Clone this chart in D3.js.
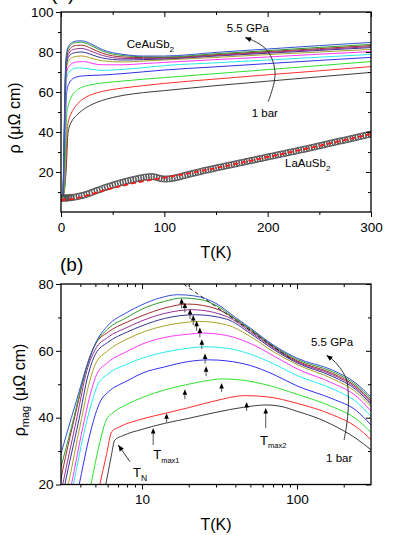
<!DOCTYPE html>
<html><head><meta charset="utf-8">
<script src="https://cdn.jsdelivr.net/npm/d3@7"></script>
<style>
body{margin:0;background:#fff;}
svg{display:block;}
text{font-family:"Liberation Sans",Arial,Helvetica,sans-serif;fill:#000;}
</style>
</head><body>
<svg id="c" width="414" height="535"></svg>
<script>
// ---------------- DATA ----------------
// Panel (a): rho(T) of CeAuSb2 at 12 pressures, [T (K), rho (µΩ cm)]  (1 bar -> 5.5 GPa)
const ce01 = [[2,8],[4,14],[5.5,26],[6.5,38],[8,42.5],[10,45],[15,48.3],[20,50.6],[30,53.8],[40,55.8],[60,58.3],[80,59.7],[100,60.7],[150,63.2],[200,65.4],[250,67.6],[300,69.8]];
const ce02 = [[2,8],[4,16],[5,28],[6,41],[7,45],[8,47],[10,49.5],[15,53.5],[20,56],[30,58.8],[40,60.3],[60,62],[80,63.2],[100,64.3],[150,66.5],[200,68.6],[250,70.6],[300,72.7]];
const ce03 = [[2,8],[3.5,15],[4.5,30],[5.5,48],[6.5,52],[8,55],[10,57.5],[15,60.8],[20,62.3],[30,63.7],[40,64.5],[60,65.5],[80,66.4],[100,67.2],[150,69.2],[200,71.2],[250,73.2],[300,75.2]];
const ce04 = [[2,8],[3,18],[4,38],[5,56],[6,61.5],[8,64.5],[10,66],[15,67.5],[20,68],[30,68.3],[40,68.5],[60,69.2],[80,70.1],[100,71],[150,72.6],[200,74.2],[250,75.8],[300,77.3]];
const ce05 = [[2,8],[3,22],[4,45],[5,64],[6,68],[8,70],[10,71],[15,72],[20,72],[30,71.3],[40,70.8],[60,71.3],[80,72.2],[100,73.2],[150,74.6],[200,76],[250,77.4],[300,78.8]];
const ce06 = [[2,8],[3,25],[4,50],[5,67],[6,71],[8,73],[10,74],[15,75],[20,75.2],[25,75],[30,74.3],[40,73.6],[60,73.6],[80,74.2],[100,74.8],[150,76.2],[200,77.5],[250,78.9],[300,80.2]];
const ce07 = [[2,8],[3,28],[4,55],[5,70],[6,73.5],[8,76],[10,77],[15,77.8],[20,78],[25,77.6],[30,76.8],[40,75.6],[60,75],[80,75.5],[100,76],[150,77.3],[200,78.7],[250,80],[300,81.3]];
const ce08 = [[2,8],[3,30],[4,58],[5,72],[6,75.5],[8,78],[10,79],[15,79.8],[20,80],[25,79.5],[30,78.6],[40,77],[60,76],[80,76.2],[100,76.5],[150,78],[200,79.4],[250,80.8],[300,82.2]];
const ce09 = [[2,8],[3,32],[4,60],[5,73.5],[6,77],[8,79.5],[10,80.8],[15,81.6],[20,81.8],[25,81.2],[30,80.2],[40,78.3],[60,76.8],[80,76.7],[100,76.8],[150,78.3],[200,79.8],[250,81.2],[300,82.7]];
const ce10 = [[2,8],[3,34],[4,62],[5,75],[6,78.5],[8,81],[10,82.3],[15,83.3],[20,83.4],[25,82.8],[30,81.6],[40,79.4],[60,77.5],[80,77.2],[100,77.2],[150,78.7],[200,80.2],[250,81.7],[300,83.2]];
const ce11 = [[2,8],[3,36],[4,64],[5,76.5],[6,80],[8,82.5],[10,83.7],[15,84.8],[20,84.9],[25,84.2],[30,83],[40,80.5],[60,78.2],[80,77.6],[100,77.5],[150,79.1],[200,80.7],[250,82.3],[300,83.8]];
const ce12 = [[2,8],[3,38],[4,66],[5,77.5],[6,81],[8,83.5],[10,84.5],[15,85.5],[20,85.6],[25,85],[30,83.8],[40,81.2],[60,78.8],[80,78],[100,78],[150,79.8],[200,81.5],[250,83.2],[300,84.8]];

// Panel (a): LaAuSb2 reference (open circles) and phonon fit (red dashed)
const laT   = [1,1.5,2,3,4,5,6,7.5,9,10,12.5,15,17.5,20,22.5,25,27.5,30,32.5,35,37.5,40,42.5,45,47.5,50,52.5,55,57.5,60,62.5,65,67.5,70,72.5,75,77.5,80,82.5,85,87.5,90,92.5,95,97.5,100,102.5,105,107.5,110,112.5,115,117.5,120,122.5,125,127.5,130,132.5,135,137.5,140,142.5,145,147.5,150,152.5,155,157.5,160,162.5,165,167.5,170,172.5,175,177.5,180,182.5,185,187.5,190,192.5,195,197.5,200,202.5,205,207.5,210,212.5,215,217.5,220,222.5,225,227.5,230,232.5,235,237.5,240,242.5,245,247.5,250,252.5,255,257.5,260,262.5,265,267.5,270,272.5,275,277.5,280,282.5,285,287.5,290,292.5,295,297.5,300];
const laRho = [7.0,7.0,7.0,7.0,7.0,7.0,7.0,7.1,7.2,7.2,7.4,7.6,7.9,8.2,8.5,8.9,9.3,9.8,10.3,10.8,11.2,11.7,12.2,12.6,13.0,13.4,13.8,14.2,14.6,14.9,15.3,15.6,15.9,16.2,16.5,16.8,17.1,17.3,17.5,17.6,17.7,17.6,17.3,16.9,16.6,16.5,16.5,16.6,16.8,17.0,17.3,17.6,18.0,18.3,18.7,19.0,19.3,19.6,19.9,20.2,20.6,20.9,21.1,21.4,21.7,22.0,22.3,22.5,22.8,23.1,23.4,23.6,23.9,24.2,24.5,24.7,25.0,25.3,25.6,25.8,26.1,26.4,26.7,26.9,27.2,27.5,27.8,28.0,28.3,28.6,28.9,29.1,29.4,29.7,30.0,30.2,30.5,30.8,31.1,31.3,31.6,31.9,32.2,32.5,32.8,33.1,33.4,33.7,34.0,34.3,34.6,34.9,35.2,35.5,35.7,36.0,36.3,36.6,36.9,37.2,37.5,37.8,38.1,38.4,38.7,39.0];
const fitT   = [0,10,20,30,40,50,60,70,80,100,120,150,200,250,300];
const fitRho = [6.0,6.4,7.5,9.0,10.6,12.0,13.2,14.4,15.4,17.2,19.0,22.0,27.5,33.1,39.0];

// Panel (b): magnetic resistivity rho_mag(T), [T (K), rho_mag (µΩ cm)]  (1 bar -> 5.5 GPa)
const mag01 = [[5.3,12],[5.83,20],[6.3,28],[6.67,33.3],[7.5,34.6],[10,36.5],[14,38.3],[20,39.8],[30,41.6],[45,43.1],[63,43.8],[80,43.3],[100,41.9],[140,39.6],[170,37.8],[240,33.8],[300,30.4]];
const mag02 = [[4.9,12],[5.34,20],[5.9,29],[6.37,35.8],[7.2,37.3],[10,39.6],[14.4,41.4],[20,43],[30,45.1],[46,46.6],[65,46.2],[100,44.3],[170,40.8],[240,37.3],[300,33.4]];
const mag03 = [[4.3,12],[4.68,20],[5.3,32],[5.9,39.5],[6.5,41.5],[8,44],[10,46],[14,48.3],[19,49.8],[25,50.9],[33,51.6],[45,51.2],[60,50.1],[100,47],[170,43.2],[240,39.7],[300,35.6]];
const mag04 = [[3.6,12],[3.93,20],[4.5,33],[5.0,41],[5.4,45],[6,47.5],[8,51],[10,53.3],[14,55.2],[20,56.8],[27,57.3],[35,57],[50,55.6],[70,53],[100,49.5],[170,45.6],[240,42.2],[300,37.8]];
const mag05 = [[3.3,12],[3.6,20],[4.2,35],[4.8,45.5],[5.2,50],[6,53],[8,56],[10,57.8],[14,59.6],[20,60.8],[25.5,61.2],[35,60.8],[50,59],[70,56.2],[100,52.6],[170,48.6],[240,44.8],[300,40.4]];
const mag06 = [[3.2,12],[3.5,20],[4.1,36],[4.7,48],[5.1,53],[6,56.5],[8,59.8],[10,62],[14,64],[20,65],[24.6,65.3],[35,64.6],[50,62.2],[70,58.6],[100,54.6],[170,50.3],[240,46.5],[300,42]];
const mag07 = [[3.05,12],[3.34,20],[4.0,38],[4.6,51],[5.0,56],[6,60],[8,63.5],[10,65.5],[14,67.5],[20,68.6],[23.5,68.8],[35,67.8],[50,64.3],[70,59.8],[100,55.9],[170,51.6],[240,47.7],[300,43.3]];
const mag08 = [[2.95,12],[3.18,20],[3.9,39],[4.5,53],[5.0,59],[6,62.5],[8,65.6],[10,67.5],[14,69.7],[22,70.8],[35,69.5],[50,65.2],[70,60.5],[100,56.4],[170,52.3],[240,48.4],[300,44]];
const mag09 = [[2.85,12],[3.08,20],[3.8,40],[4.4,54],[5.0,60.5],[6,64],[8,67],[10,69],[14,71.2],[21,72.3],[35,70.3],[50,65.7],[70,60.9],[100,56.7],[170,52.8],[240,48.9],[300,44.5]];
const mag10 = [[2.75,12],[2.95,20],[3.2,28],[3.8,43],[4.4,55.5],[5.0,62],[6,65.5],[8,68.6],[10,70.5],[14,72.8],[19.7,74],[30,72.6],[50,66.2],[70,61.2],[100,57],[170,53.2],[240,49.3],[300,45]];
const mag11 = [[2.6,12],[2.8,20],[3,25.3],[3.5,37],[4,48],[4.5,56.5],[5,62],[6,66.5],[8,70],[10,72.5],[14,74.8],[18,75.8],[24,75.3],[30,73.6],[40,69.6],[50,66.5],[70,61.5],[100,57.4],[170,53.7],[240,49.8],[300,45.5]];
const mag12 = [[2.5,14],[2.65,20],[3,29.2],[3.5,40],[3.78,45.2],[4.3,54],[5.1,63],[6,67.5],[8,71.5],[10,73.8],[13,75.8],[17,76.8],[22,76.4],[30,74.2],[40,70],[50,66.8],[70,61.8],[100,57.8],[170,54.2],[240,50.3],[300,46.1]];

// Panel (b): Tmax arrows (T, rho_mag at arrow tip)
const arrowT   = [18.0,18.9,20.4,21.4,22.5,23.6,24.3,25.5,25.9,32.6,18.9,47.3,14.4,11.8,62.8];
const arrowRho = [75.7,74.5,72.5,70.7,69.0,67.0,63.5,59.2,55.4,50.4,48.5,44.7,41.3,36.9,42.9];
// Panel (b): -ln T guide (dashed)
const dashT   = [18.5,94];
const dashRho = [80.0,57.2];

// Tick values
const xTicksA = [0,100,200,300], xMinorA = [50,150,250];
const yTicksA = [20,40,60,80,100], yMinorA = [10,30,50,70,90];
const xTicksB = [10,100], xMinorB = [4,5,6,7,8,9,20,30,40,50,60,70,80,90,200];
const yTicksB = [20,40,60,80], yMinorB = [30,50,70];

// ---------------- STYLE ----------------
const colors = ["#3c3c3c","#ff2d2d","#2ee02e","#3030f0","#26eaea","#ff36ff","#a8a026","#343494","#963096","#a42a2a","#2e9a2e","#3452d2"];
const ceCurves  = [ce01,ce02,ce03,ce04,ce05,ce06,ce07,ce08,ce09,ce10,ce11,ce12];
const magCurves = [mag01,mag02,mag03,mag04,mag05,mag06,mag07,mag08,mag09,mag10,mag11,mag12];
const arrowLen = [10,10,10,10,10,10,10,10,10,9,10,9,9,17,20];

const svg = d3.select("#c");
const defs = svg.append("defs");

// scales
const xA = d3.scaleLinear().domain([0,300]).range([61,371]);
const yA = d3.scaleLinear().domain([0,100]).range([212,12]);
const xB = d3.scaleLog().domain([3,300]).range([61,371]);
const yB = d3.scaleLinear().domain([20,80]).range([484.5,284]);

function clip(id,x,y){
  defs.append("clipPath").attr("id",id).append("rect")
    .attr("x",x.range()[0]).attr("y",y.range()[1])
    .attr("width",x.range()[1]-x.range()[0]).attr("height",y.range()[0]-y.range()[1]);
}
clip("clipA",xA,yA); clip("clipB",xB,yB);

function drawAxes(x,y,xMaj,xMin,yMaj,yMin,xFmt){
  const [x0,x1]=x.range(), [y0,y1]=y.range();
  const g = svg.append("g");
  const style = sel => {
    sel.select(".domain").remove();
    sel.selectAll("line").attr("stroke","#000").attr("stroke-width",1);
    sel.selectAll("text").attr("font-size","13.5px").attr("fill","#000")
      .attr("font-family",'"Liberation Sans",Arial,sans-serif');
  };
  g.append("g").attr("transform",`translate(0,${y0})`)
    .call(d3.axisBottom(x).tickValues(xMaj).tickSize(5).tickSizeOuter(0).tickPadding(5).tickFormat(xFmt)).call(style);
  g.append("g").attr("transform",`translate(0,${y0})`)
    .call(d3.axisBottom(x).tickValues(xMin).tickSize(3).tickSizeOuter(0).tickFormat("")).call(style);
  g.append("g").attr("transform",`translate(0,${y1})`)
    .call(d3.axisBottom(x).tickValues(xMaj).tickSize(5).tickSizeOuter(0).tickFormat("")).call(style);
  g.append("g").attr("transform",`translate(0,${y1})`)
    .call(d3.axisBottom(x).tickValues(xMin).tickSize(3).tickSizeOuter(0).tickFormat("")).call(style);
  g.append("g").attr("transform",`translate(${x0},0)`)
    .call(d3.axisLeft(y).tickValues(yMaj).tickSize(5).tickSizeOuter(0).tickPadding(2.5).tickFormat(d3.format("d"))).call(style);
  g.append("g").attr("transform",`translate(${x0},0)`)
    .call(d3.axisLeft(y).tickValues(yMin).tickSize(3).tickSizeOuter(0).tickFormat("")).call(style);
  g.append("g").attr("transform",`translate(${x1},0)`)
    .call(d3.axisLeft(y).tickValues(yMaj).tickSize(5).tickSizeOuter(0).tickFormat("")).call(style);
  g.append("g").attr("transform",`translate(${x1},0)`)
    .call(d3.axisLeft(y).tickValues(yMin).tickSize(3).tickSizeOuter(0).tickFormat("")).call(style);
  g.append("rect").attr("x",x0).attr("y",y1).attr("width",x1-x0).attr("height",y0-y1)
    .attr("fill","none").attr("stroke","#000").attr("stroke-width",1.3);
}

// ---------- Panel (a) ----------
const pA = svg.append("g").attr("clip-path","url(#clipA)");
const lineA = d3.line().x(d=>xA(d[0])).y(d=>yA(d[1])).curve(d3.curveMonotoneX);
pA.selectAll("path.ce").data(ceCurves).join("path").attr("class","ce")
  .attr("d",lineA).attr("fill","none").attr("stroke",(d,i)=>colors[i]).attr("stroke-width",1);
pA.selectAll("circle.la").data(laT.map((t,i)=>[t,laRho[i]])).join("circle").attr("class","la")
  .attr("cx",d=>xA(d[0])).attr("cy",d=>yA(d[1])).attr("r",3.1)
  .attr("fill","none").attr("stroke","#505050").attr("stroke-width",1);
pA.append("path").datum(fitT.map((t,i)=>[t,fitRho[i]]))
  .attr("d",lineA).attr("fill","none").attr("stroke","#ff1a1a").attr("stroke-width",1.8).attr("stroke-dasharray","5,3");
drawAxes(xA,yA,xTicksA,xMinorA,yTicksA,yMinorA,d3.format("d"));

// ---------- Panel (b) ----------
const pB = svg.append("g").attr("clip-path","url(#clipB)");
const lineB = d3.line().x(d=>xB(d[0])).y(d=>yB(d[1])).curve(d3.curveMonotoneX);
pB.selectAll("path.mag").data(magCurves).join("path").attr("class","mag")
  .attr("d",lineB).attr("fill","none").attr("stroke",(d,i)=>colors[i]).attr("stroke-width",1);
pB.append("path").datum(dashT.map((t,i)=>[t,dashRho[i]]))
  .attr("d",d3.line().x(d=>xB(d[0])).y(d=>yB(d[1])))
  .attr("fill","none").attr("stroke","#222").attr("stroke-width",1).attr("stroke-dasharray","4,3");
// Tmax arrows
const ag = svg.append("g");
arrowT.forEach((t,i)=>{
  const x = xB(t), y = yB(arrowRho[i]), L = arrowLen[i];
  ag.append("line").attr("x1",x).attr("x2",x).attr("y1",y+4).attr("y2",y+L)
    .attr("stroke","#555").attr("stroke-width",1);
  ag.append("path").attr("d",`M${x},${y}L${x-2.3},${y+5.5}L${x+2.3},${y+5.5}Z`).attr("fill","#000");
});
drawAxes(xB,yB,xTicksB,xMinorB,yTicksB,yMinorB,d3.format("d"));

// ---------- annotations ----------
function arrowPath(pts, sx, sy){
  const P = pts.map(p=>[sx(p[0]),sy(p[1])]);
  svg.append("path").attr("d",d3.line().curve(d3.curveCatmullRom)(P))
    .attr("fill","none").attr("stroke","#333").attr("stroke-width",1);
  const a = P[P.length-1], b = P[P.length-2];
  const ang = Math.atan2(a[1]-b[1],a[0]-b[0]);
  const hl=6, hw=2.5;
  const bx=a[0]-hl*Math.cos(ang), by=a[1]-hl*Math.sin(ang);
  const px=-Math.sin(ang)*hw, py=Math.cos(ang)*hw;
  svg.append("path").attr("d",`M${a[0]},${a[1]}L${bx+px},${by+py}L${bx-px},${by-py}Z`).attr("fill","#000");
}
// pressure arrows (data coordinates)
const pArrowA = [[200.6,55.2],[206.1,64.4],[207.1,70.2],[203.9,76.9],[197.4,81.9],[186.1,85.7],[178.1,87.2]];
const pArrowB = [[201,33.3],[209,37.8],[214,42.8],[214,47.3],[209,51.2],[194,54.2],[171,57.2],[155,58.7]];
const tnArrow = [[8.36,26.8],[7.03,31.8]];
arrowPath(pArrowA,xA,yA);
arrowPath(pArrowB,xB,yB);
arrowPath(tnArrow,xB,yB);

function label(x,y,main,sub,fs,subfs){
  const t = svg.append("text").attr("x",x).attr("y",y).attr("font-size",fs+"px");
  t.append("tspan").text(main);
  if(sub){ t.append("tspan").attr("dy",subfs*0.45).attr("font-size",subfs+"px").text(sub); }
  return t;
}
label(xA(63.6),yA(82),"CeAuSb","2",11.5,8);
label(xA(216.8),yA(22.4),"LaAuSb","2",11.5,8);
label(xA(160.4),yA(90),"5.5 GPa",null,11.5);
label(xA(184.5),yA(47.5),"1 bar",null,11.5);
label(xB(123),yB(61.4),"5.5 GPa",null,11.5);
label(xB(154),yB(26.7),"1 bar",null,11.5);
label(xB(8.74),yB(22.1),"T","N",13,8.5);
label(xB(11.8),yB(27.5),"T","max1",13,7.5);
label(xB(57.7),yB(31.8),"T","max2",13,7.5);

// panel letters ("(a)" is cropped at the top edge in the reference)
svg.append("text").attr("x",51).attr("y",0).attr("font-size","19px").text("(a)");
svg.append("text").attr("x",60).attr("y",271).attr("font-size","19px").text("(b)");

// axis titles
svg.append("text").attr("x",216).attr("y",258).attr("text-anchor","middle").attr("font-size","16px").text("T(K)");
svg.append("text").attr("x",216).attr("y",530).attr("text-anchor","middle").attr("font-size","16px").text("T(K)");
svg.append("text").attr("transform","translate(20,118) rotate(-90)").attr("text-anchor","middle")
  .attr("font-size","16px").text("ρ (μΩ cm)");
const yt = svg.append("text").attr("transform","translate(25,390) rotate(-90)").attr("text-anchor","middle").attr("font-size","16px");
yt.append("tspan").text("ρ");
yt.append("tspan").attr("dy",4).attr("font-size","11px").text("mag");
yt.append("tspan").attr("dy",-4).text(" (μΩ cm)");
</script>
</body></html>
